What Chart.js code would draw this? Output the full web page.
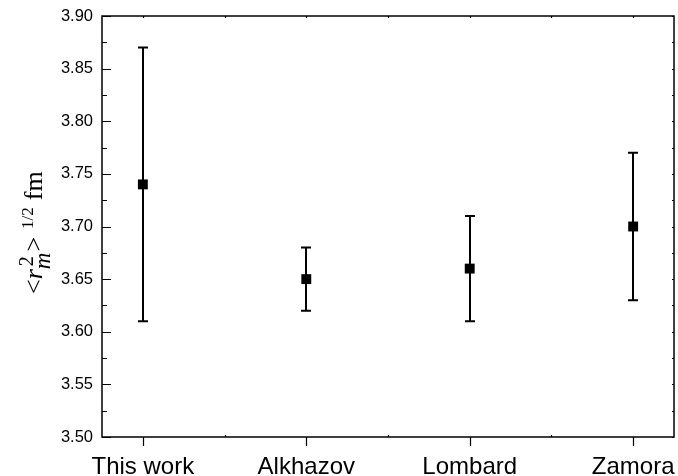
<!DOCTYPE html>
<html>
<head>
<meta charset="utf-8">
<script src="https://cdn.jsdelivr.net/npm/chart.js@4/dist/chart.umd.min.js"></script>
<style>
  html, body { margin: 0; padding: 0; background: #fff; }
  #wrap { width: 678px; height: 476px; }
</style>
</head>
<body>
<div id="wrap"><canvas id="c" width="678" height="476"></canvas></div>
<script>
// radius values
var categories = ['This work', 'Alkhazov', 'Lombard', 'Zamora'];
var radius = [3.74, 3.65, 3.66, 3.70];
var errLow = [3.61, 3.62, 3.61, 3.63];
var errHigh = [3.87, 3.68, 3.71, 3.77];
var yMin = 3.50, yMax = 3.90, yStep = 0.05;

var points = radius.map(function (v, i) { return { x: i + 1, y: v }; });

function noPad(scale) {
  scale.paddingLeft = 0; scale.paddingRight = 0;
  scale.paddingTop = 0; scale.paddingBottom = 0;
}

// frame, inward ticks, error bars and the y title
var decor = {
  id: 'decor',
  beforeDatasetsDraw: function (chart) {
    var ctx = chart.ctx, xs = chart.scales.x, ys = chart.scales.y;
    ctx.save();
    ctx.strokeStyle = '#000';
    ctx.lineWidth = 2;
    for (var i = 0; i < radius.length; i++) {
      var px = Math.round(xs.getPixelForValue(i + 1));
      var top = ys.getPixelForValue(errHigh[i]);
      var bot = ys.getPixelForValue(errLow[i]);
      ctx.beginPath();
      ctx.moveTo(px, top); ctx.lineTo(px, bot);
      ctx.moveTo(px - 5, top); ctx.lineTo(px + 5, top);
      ctx.moveTo(px - 5, bot); ctx.lineTo(px + 5, bot);
      ctx.stroke();
    }
    ctx.restore();
  },
  afterDraw: function (chart) {
    var ctx = chart.ctx, a = chart.chartArea;
    var xs = chart.scales.x, ys = chart.scales.y;
    ctx.save();
    ctx.strokeStyle = '#000';
    ctx.lineWidth = 1.5;
    ctx.strokeRect(a.left, a.top, a.right - a.left, a.bottom - a.top);

    ctx.lineWidth = 1.2;
    ctx.beginPath();
    // left / right ticks
    for (var v = yMin; v <= yMax + 1e-9; v += yStep / 2) {
      var py = Math.round(ys.getPixelForValue(v)) + 0.5;
      var major = Math.abs(Math.round(v / yStep) * yStep - v) < 1e-6;
      ctx.moveTo(a.left, py); ctx.lineTo(a.left + (major ? 9 : 5), py);
      ctx.moveTo(a.right, py); ctx.lineTo(a.right - 2, py);
    }
    // bottom / top ticks
    for (var k = 1; k <= categories.length; k++) {
      var px = Math.round(xs.getPixelForValue(k)) + 0.5;
      ctx.moveTo(px, a.bottom); ctx.lineTo(px, a.bottom + 9);
      ctx.moveTo(px, a.top); ctx.lineTo(px, a.top + 2);
      if (k < categories.length) {
        var pm = Math.round(xs.getPixelForValue(k + 0.5)) + 0.5;
        ctx.moveTo(pm, a.bottom); ctx.lineTo(pm, a.bottom - 2);
        ctx.moveTo(pm, a.top); ctx.lineTo(pm, a.top + 2);
      }
    }
    ctx.stroke();

    // y title: <r_m^2>^{1/2} fm, rotated
    var big = '26px "Liberation Serif", serif';
    var bigIt = 'italic 26px "Liberation Serif", serif';
    var midIt = 'italic 23px "Liberation Serif", serif';
    var sup = '20px "Liberation Serif", serif';
    var sup2 = '17px "Liberation Serif", serif';
    function w(f, t) { ctx.font = f; return ctx.measureText(t).width; }
    ctx.translate(42, 294);
    ctx.rotate(-Math.PI / 2);
    ctx.fillStyle = '#000';
    ctx.textBaseline = 'alphabetic';
    ctx.textAlign = 'left';
    var x = 0;
    ctx.font = big; ctx.fillText('<', x, 0); x += w(big, '<');
    ctx.font = bigIt; ctx.fillText('r', x, 0); x += w(bigIt, 'r');
    ctx.font = midIt; ctx.fillText('m', x, 8);
    ctx.font = sup; ctx.fillText('2', x + 3, -9);
    x += Math.max(w(midIt, 'm'), w(sup, '2')) + 1;
    ctx.font = big; ctx.fillText('>', x, 0); x += w(big, '>') + 8;
    ctx.font = sup2; ctx.fillText('1/2', x, -9); x += w(sup2, '1/2') + 7;
    ctx.font = big; ctx.fillText('fm', x, 0);
    ctx.restore();
  }
};

new Chart(document.getElementById('c'), {
  type: 'scatter',
  data: {
    datasets: [{
      data: points,
      pointStyle: 'rect',
      pointRadius: 7,
      pointHoverRadius: 7,
      backgroundColor: '#000',
      borderColor: '#000',
      borderWidth: 0
    }]
  },
  options: {
    responsive: false,
    animation: false,
    events: [],
    layout: { autoPadding: false, padding: { top: 16, right: 4, left: 0, bottom: 0 } },
    plugins: { legend: { display: false }, tooltip: { enabled: false } },
    scales: {
      x: {
        type: 'linear',
        min: 0.75,
        max: 4.25,
        grid: { display: false, drawTicks: false },
        border: { display: false },
        afterBuildTicks: function (scale) {
          scale.ticks = categories.map(function (c, i) { return { value: i + 1 }; });
        },
        afterFit: function (scale) { scale.height = 39; noPad(scale); },
        ticks: {
          autoSkip: false,
          maxRotation: 0,
          padding: 16,
          color: '#000',
          font: { family: '"Liberation Sans", Arial, sans-serif', size: 24 },
          callback: function (v) { return categories[Math.round(v) - 1] || ''; }
        }
      },
      y: {
        min: yMin,
        max: yMax,
        grid: { display: false, drawTicks: false },
        border: { display: false },
        afterFit: function (scale) { scale.width = 102; noPad(scale); },
        ticks: {
          stepSize: yStep,
          padding: 9,
          color: '#000',
          font: { family: '"Liberation Sans", Arial, sans-serif', size: 16.5 },
          callback: function (v) { return Number(v).toFixed(2); }
        }
      }
    }
  },
  plugins: [decor]
});
</script>
</body>
</html>
